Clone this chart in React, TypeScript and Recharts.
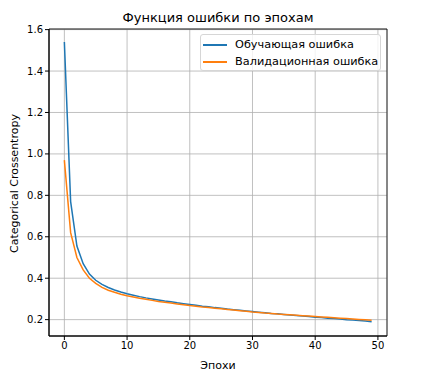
import React from 'react';
import {
  LineChart,
  Line,
  XAxis,
  YAxis,
  CartesianGrid,
  ReferenceArea,
} from 'recharts';

const trainLoss = [
  1.54, 0.77, 0.555, 0.47, 0.42, 0.39, 0.37, 0.355, 0.343, 0.333,
  0.325, 0.318, 0.311, 0.305, 0.3, 0.295, 0.29, 0.286, 0.281, 0.277,
  0.273, 0.269, 0.265, 0.262, 0.258, 0.255, 0.251, 0.248, 0.245, 0.242,
  0.239, 0.236, 0.233, 0.23, 0.228, 0.225, 0.222, 0.22, 0.217, 0.215,
  0.212, 0.21, 0.207, 0.205, 0.203, 0.2, 0.198, 0.196, 0.193, 0.19,
];

const valLoss = [
  0.97, 0.62, 0.5, 0.44, 0.4, 0.375, 0.356, 0.342, 0.332, 0.323,
  0.315, 0.309, 0.303, 0.298, 0.293, 0.288, 0.284, 0.28, 0.276, 0.272,
  0.268, 0.265, 0.261, 0.258, 0.255, 0.252, 0.249, 0.246, 0.243, 0.24,
  0.237, 0.235, 0.232, 0.23, 0.227, 0.225, 0.223, 0.221, 0.219, 0.217,
  0.215, 0.213, 0.211, 0.209, 0.207, 0.205, 0.203, 0.201, 0.199, 0.197,
];

const xTicks = [0, 10, 20, 30, 40, 50];
const yTicks = [0.2, 0.4, 0.6, 0.8, 1.0, 1.2, 1.4, 1.6];

const title = 'Функция ошибки по эпохам';
const xLabel = 'Эпохи';
const yLabel = 'Categorical Crossentropy';
const trainName = 'Обучающая ошибка';
const valName = 'Валидационная ошибка';

const data = trainLoss.map((v, i) => ({ epoch: i, train: v, val: valLoss[i] }));

const FONT = '"DejaVu Sans", sans-serif';
const BLUE = '#1f77b4';
const ORANGE = '#ff7f0e';

const X_DOMAIN: [number, number] = [-2.45, 51.45];
const Y_DOMAIN: [number, number] = [0.121, 1.603];

export default function App() {
  return (
    <div
      style={{
        position: 'absolute',
        left: 0,
        top: 0,
        width: 428,
        height: 382,
        background: '#fff',
        fontFamily: FONT,
      }}
    >
      <LineChart
        width={428}
        height={382}
        data={data}
        margin={{ top: 29, right: 41, bottom: 0, left: 0 }}
      >
        <CartesianGrid stroke='#b0b0b0' strokeWidth={0.8} />
        <XAxis
          dataKey='epoch'
          type='number'
          domain={X_DOMAIN}
          ticks={xTicks}
          allowDataOverflow
          height={46}
          tickSize={4}
          tickMargin={2}
          stroke='#000'
          tick={{ fill: '#000', fontSize: 10, fontFamily: FONT }}
        />
        <YAxis
          type='number'
          domain={Y_DOMAIN}
          ticks={yTicks}
          allowDataOverflow
          width={49}
          tickSize={4}
          tickMargin={2}
          stroke='#000'
          tickFormatter={(v: number) => v.toFixed(1)}
          tick={{ fill: '#000', fontSize: 10, fontFamily: FONT }}
        />
        <ReferenceArea
          x1={X_DOMAIN[0]}
          x2={X_DOMAIN[1]}
          y1={Y_DOMAIN[0]}
          y2={Y_DOMAIN[1]}
          fill='none'
          stroke='#000'
          strokeWidth={0.8}
          ifOverflow='visible'
        />
        <Line
          dataKey='train'
          stroke={BLUE}
          strokeWidth={1.5}
          dot={false}
          type='linear'
          isAnimationActive={false}
        />
        <Line
          dataKey='val'
          stroke={ORANGE}
          strokeWidth={1.5}
          dot={false}
          type='linear'
          isAnimationActive={false}
        />
      </LineChart>

      <div
        style={{
          position: 'absolute',
          left: 49,
          width: 338,
          top: 10,
          textAlign: 'center',
          fontSize: 13,
          lineHeight: '15px',
          color: '#000',
        }}
      >
        {title}
      </div>

      <div
        style={{
          position: 'absolute',
          left: 49,
          width: 338,
          top: 359,
          textAlign: 'center',
          fontSize: 11,
          lineHeight: '13px',
          color: '#000',
        }}
      >
        {xLabel}
      </div>

      <div
        style={{
          position: 'absolute',
          left: 13.5 - 100,
          top: 183 - 6.5,
          width: 200,
          textAlign: 'center',
          fontSize: 11,
          lineHeight: '13px',
          color: '#000',
          transform: 'rotate(-90deg)',
        }}
      >
        {yLabel}
      </div>

      <div
        style={{
          position: 'absolute',
          left: 200,
          top: 34,
          width: 181,
          height: 37,
          border: '1px solid #d6d6d6',
          borderRadius: 3,
          background: 'rgba(255,255,255,0.8)',
          boxSizing: 'border-box',
          fontSize: 11.3,
          color: '#000',
        }}
      >
        {[
          { name: trainName, color: BLUE },
          { name: valName, color: ORANGE },
        ].map((item, i) => (
          <div
            key={item.name}
            style={{
              position: 'absolute',
              left: 2,
              top: 2.5 + i * 17,
              height: 14,
              display: 'flex',
              alignItems: 'center',
              whiteSpace: 'nowrap',
            }}
          >
            <span
              style={{
                display: 'inline-block',
                width: 24,
                height: 2,
                background: item.color,
                marginRight: 8,
              }}
            />
            <span style={{ lineHeight: '14px' }}>{item.name}</span>
          </div>
        ))}
      </div>
    </div>
  );
}
